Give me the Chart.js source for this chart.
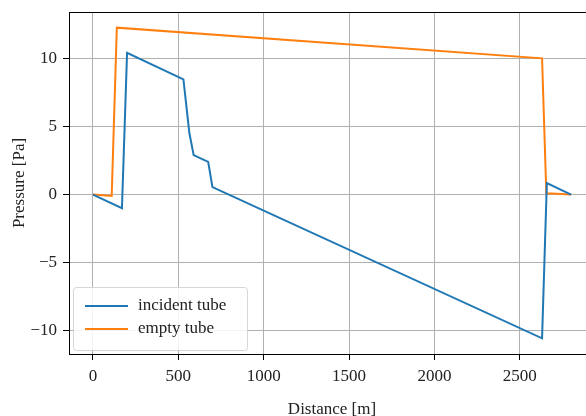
<!DOCTYPE html>
<html>
<head>
<meta charset="utf-8">
<script src="https://cdn.jsdelivr.net/npm/chart.js@4.4.0/dist/chart.umd.min.js"></script>
<style>
    html, body { margin: 0; padding: 0; background: #fff; overflow: hidden; }
    #wrap { width: 586px; height: 416px; overflow: hidden; }
</style>
</head>
<body>
<div id="wrap"><canvas id="pressureChart" width="600" height="420"></canvas></div>
<script>
// Data
const incidentX = [0, 170, 200, 530, 565, 590, 675, 700, 2630, 2658, 2800];
const incidentY = [0, -1.0, 10.4, 8.45, 4.5, 2.9, 2.4, 0.55, -10.55, 0.85, 0];
const emptyX = [0, 110, 140, 2630, 2655, 2800];
const emptyY = [0, -0.1, 12.25, 10.0, 0.1, 0];
const xTicks = [0, 500, 1000, 1500, 2000, 2500];
const yTicks = [-10, -5, 0, 5, 10];

const serif = "'Liberation Serif', 'DejaVu Serif', serif";
const toPoints = (xs, ys) => xs.map((x, i) => ({ x, y: ys[i] }));

// matplotlib-style box around the plot area
const frameBox = {
    id: 'frameBox',
    afterDatasetsDraw(chart) {
        const { ctx, chartArea: a } = chart;
        ctx.save();
        ctx.strokeStyle = '#000';
        ctx.lineWidth = 1;
        ctx.strokeRect(a.left + 0.5, a.top + 0.5, a.right - a.left, a.bottom - a.top);
        ctx.restore();
    }
};

// legend drawn inside the axes, lower left
const legendInside = {
    id: 'legendInside',
    afterDraw(chart) {
        const { ctx, chartArea: a } = chart;
        const left = a.left + 4, w = 174, h = 63, top = a.bottom - 4 - h;
        ctx.save();
        ctx.fillStyle = 'rgba(255,255,255,0.85)';
        ctx.strokeStyle = 'rgba(204,204,204,0.8)';
        ctx.lineWidth = 1;
        ctx.beginPath();
        ctx.roundRect(left + 0.5, top + 0.5, w, h, 3);
        ctx.fill();
        ctx.stroke();
        ctx.font = '17px ' + serif;
        ctx.textBaseline = 'middle';
        chart.data.datasets.forEach((ds, i) => {
            const yy = top + 19 + i * 23;
            ctx.strokeStyle = ds.borderColor;
            ctx.lineWidth = 2;
            ctx.beginPath();
            ctx.moveTo(left + 12, yy);
            ctx.lineTo(left + 55, yy);
            ctx.stroke();
            ctx.fillStyle = '#222';
            ctx.fillText(ds.label, left + 65, yy);
        });
        ctx.restore();
    }
};

const ctx = document.getElementById('pressureChart').getContext('2d');
new Chart(ctx, {
    type: 'line',
    data: {
        datasets: [
            { label: 'incident tube', data: toPoints(incidentX, incidentY), borderColor: '#1f77b4', borderWidth: 2, pointRadius: 0, tension: 0, fill: false },
            { label: 'empty tube', data: toPoints(emptyX, emptyY), borderColor: '#ff7f0e', borderWidth: 2, pointRadius: 0, tension: 0, fill: false }
        ]
    },
    options: {
        responsive: false,
        animation: false,
        layout: { padding: { top: 12, right: 5, left: 9, bottom: 0 } },
        plugins: {
            legend: { display: false },
            tooltip: { enabled: false }
        },
        scales: {
            x: {
                type: 'linear',
                min: -140, max: 2940,
                afterBuildTicks: s => { s.ticks = xTicks.map(v => ({ value: v })); },
                afterFit: s => { s.height = 66; },
                grid: { color: '#b0b0b0', lineWidth: 1, tickLength: 6, tickColor: '#000' },
                border: { display: false },
                ticks: { font: { family: serif, size: 17 }, color: '#222', padding: 6, maxRotation: 0, callback: v => String(v) },
                title: { display: true, text: 'Distance [m]', font: { family: serif, size: 17 }, color: '#222', padding: 0 }
            },
            y: {
                min: -11.7, max: 13.4,
                afterBuildTicks: s => { s.ticks = yTicks.map(v => ({ value: v })); },
                afterFit: s => { s.width = 60; s.paddingTop = 0; s.paddingBottom = 0; },
                grid: { color: '#b0b0b0', lineWidth: 1, tickLength: 6, tickColor: '#000' },
                border: { display: false },
                ticks: {
                    font: { family: serif, size: 17 }, color: '#222', padding: 6,
                    callback: v => v < 0 ? '\u2212' + Math.abs(v) : String(v)
                },
                title: { display: true, text: 'Pressure [Pa]', font: { family: serif, size: 17 }, color: '#222', padding: 0 }
            }
        }
    },
    plugins: [frameBox, legendInside]
});
</script>
</body>
</html>
